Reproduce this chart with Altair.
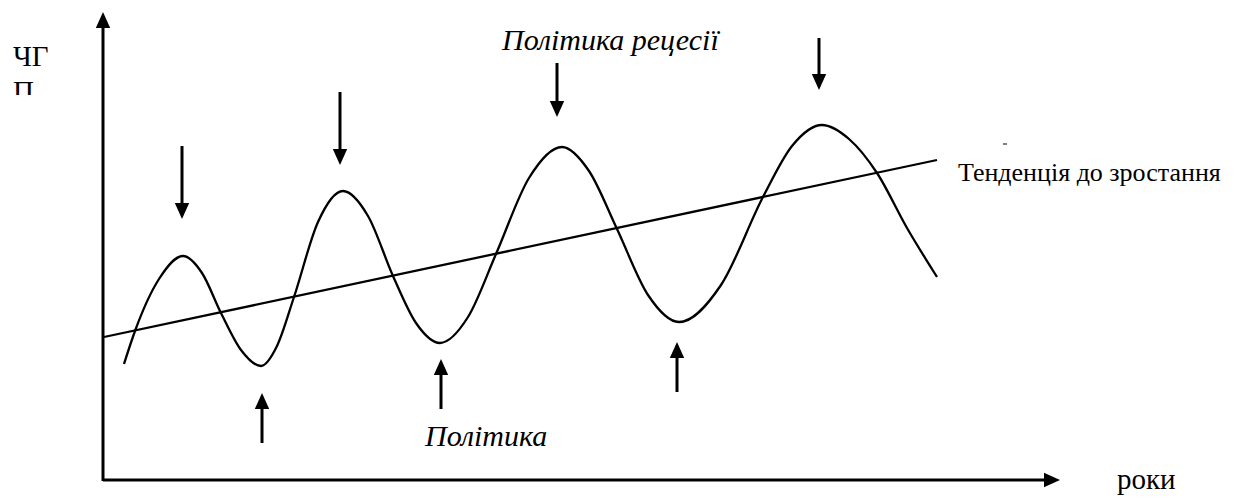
import altair as alt
import pandas as pd

cycle_t = [21, 32, 56, 80, 99, 118, 138, 158, 174, 191, 215, 240, 265, 290, 313, 337,
           365, 393, 426, 459, 486, 514, 545, 576, 618, 660, 689, 719, 746, 774, 804, 834]
cycle_gdp = [116, 149, 201, 224, 207, 167, 130, 114, 134, 183, 258, 289, 264, 204, 157, 137,
             163, 226, 302, 333, 309, 251, 185, 158, 195, 283, 334, 355, 341, 307, 252, 203]

trend_t = [1, 834]
trend_gdp = [143, 320]

# arrows above the peaks (recession policy): position, tail, tip
peak_arrow_t = [79, 237, 454, 716]
peak_arrow_tail = [334, 388, 417, 442]
peak_arrow_tip = [261, 315, 363, 390]

# arrows below the troughs (expansion policy): position, tail, tip
trough_arrow_t = [159, 338, 574]
trough_arrow_tail = [37, 71, 88]
trough_arrow_tip = [87, 121, 138]

# axis extents
y_axis_top = 468
x_axis_end = 957

# text labels
italic_texts = ["Політика рецесії", "Політика"]
italic_t = [399, 322]
italic_gdp = [430, 34]

plain_texts = ["ЧГ", "П", "роки"]
plain_t = [-90, -90, 1014]
plain_gdp = [414, 379, -9]

trend_text = ["Тенденція до зростання"]
trend_text_t = [855]
trend_text_gdp = [299]

# small stray dash above the trend label in the original
dash_t = [900]
dash_t2 = [904]
dash_gdp = [336]

# ---- styling ----
HEAD = 16
HEAD_SIZE = HEAD * HEAD
FONT = "Liberation Serif"
xs = alt.Scale(domain=[-95, 1131], nice=False, zero=False)
ys = alt.Scale(domain=[-18, 472], nice=False, zero=False)

DOWN = "M0,1L-0.9,-1L0.9,-1Z"
UP = "M0,-1L-0.9,1L0.9,1Z"
RIGHT = "M1,0L-1,-0.9L-1,0.9Z"

cycle_df = pd.DataFrame({"t": cycle_t, "gdp": cycle_gdp})
trend_df = pd.DataFrame({"t": trend_t, "gdp": trend_gdp})
down_df = pd.DataFrame({"t": peak_arrow_t, "tail": peak_arrow_tail, "tip": peak_arrow_tip})
up_df = pd.DataFrame({"t": trough_arrow_t, "tail": trough_arrow_tail, "tip": trough_arrow_tip})

axes_df = pd.DataFrame({
    "t": [0, 0], "gdp": [-1, 0],
    "t2": [0, x_axis_end - HEAD // 2], "gdp2": [y_axis_top - HEAD // 2, 0],
})


def X(f):
    return alt.X(f, type="quantitative", scale=xs, axis=None)


def Y(f):
    return alt.Y(f, type="quantitative", scale=ys, axis=None)


def head(df, yfield, shape, xoff=0, yoff=0, xfield="t"):
    return alt.Chart(df).mark_point(
        shape=shape, size=HEAD_SIZE, filled=True, fill="black", strokeWidth=0, opacity=1,
        xOffset=xoff, yOffset=yoff,
    ).encode(x=X(xfield), y=Y(yfield))


axes = alt.Chart(axes_df).mark_rule(color="black", strokeWidth=3).encode(
    x=X("t"), x2="t2", y=Y("gdp"), y2="gdp2"
)
y_head = head(pd.DataFrame({"t": [0], "gdp": [y_axis_top]}), "gdp", UP, yoff=HEAD / 2)
x_head = head(pd.DataFrame({"t": [x_axis_end], "gdp": [0]}), "gdp", RIGHT, xoff=-HEAD / 2)

cycle = alt.Chart(cycle_df).mark_line(
    color="black", strokeWidth=2.3, interpolate="monotone"
).encode(x=X("t"), y=Y("gdp"))

trend = alt.Chart(trend_df).mark_line(color="black", strokeWidth=2.3).encode(
    x=X("t"), y=Y("gdp")
)

dash = alt.Chart(pd.DataFrame({"t": dash_t, "t2": dash_t2, "gdp": dash_gdp})).mark_rule(
    color="black", strokeWidth=1
).encode(x=X("t"), x2="t2", y=Y("gdp"))

down_shaft = alt.Chart(down_df).transform_calculate(end=f"datum.tip + {HEAD // 2}").mark_rule(
    color="black", strokeWidth=3
).encode(x=X("t"), y=Y("tail"), y2="end:Q")
down_head = head(down_df, "tip", DOWN, yoff=-HEAD / 2)

up_shaft = alt.Chart(up_df).transform_calculate(end=f"datum.tip - {HEAD // 2}").mark_rule(
    color="black", strokeWidth=3
).encode(x=X("t"), y=Y("tail"), y2="end:Q")
up_head = head(up_df, "tip", UP, yoff=HEAD / 2)

italic_labels = alt.Chart(pd.DataFrame({
    "t": italic_t, "gdp": italic_gdp, "text": italic_texts
})).mark_text(
    align="left", baseline="alphabetic", font=FONT, fontSize=30, fontStyle="italic", color="black"
).encode(x=X("t"), y=Y("gdp"), text="text:N")

plain_labels = alt.Chart(pd.DataFrame({
    "t": plain_t, "gdp": plain_gdp, "text": plain_texts
})).mark_text(
    align="left", baseline="alphabetic", font=FONT, fontSize=29, color="black"
).encode(x=X("t"), y=Y("gdp"), text="text:N")

# the second line of the y label is cut off in the original text box
cut = alt.Chart(pd.DataFrame({"t": [-94], "t2": [-50], "gdp": [385], "gdp2": [360]})).mark_rect(
    color="white"
).encode(x=X("t"), x2="t2", y=Y("gdp"), y2="gdp2")

trend_label = alt.Chart(pd.DataFrame({
    "t": trend_text_t, "gdp": trend_text_gdp, "text": trend_text
})).mark_text(
    align="left", baseline="alphabetic", font=FONT, fontSize=26, color="black"
).encode(x=X("t"), y=Y("gdp"), text="text:N")

chart = alt.layer(
    axes, y_head, x_head, trend, cycle, dash, down_shaft, down_head, up_shaft, up_head,
    italic_labels, plain_labels, cut, trend_label,
).properties(
    width=1226, height=490, padding=0, autosize="none", background="white"
).configure_view(stroke=None)

chart.save("out.html", embed_options={"renderer": "svg", "actions": False})
